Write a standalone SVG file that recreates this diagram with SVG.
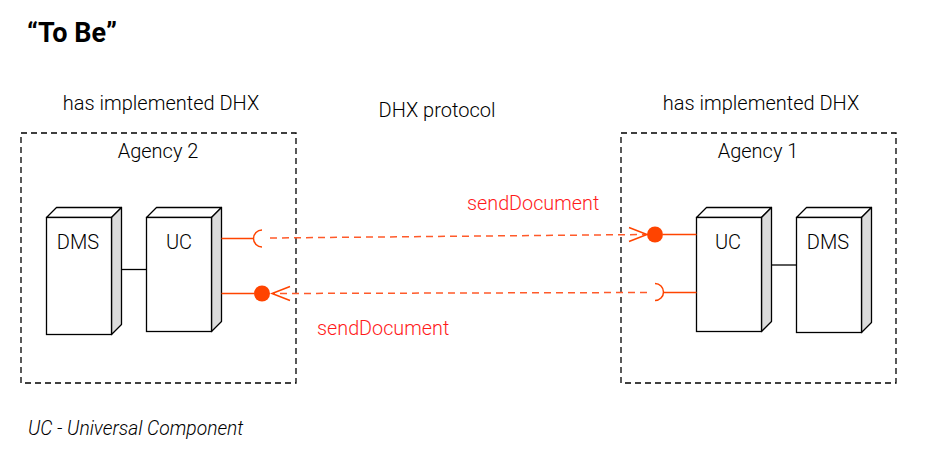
<svg xmlns="http://www.w3.org/2000/svg" width="943" height="455" viewBox="0 0 943 455">
<defs>
<style>
text{font-family:Roboto,"Liberation Sans",sans-serif;fill:#000;font-weight:300}
.t{font-size:20px;text-anchor:middle}
.title{font-size:27px;font-weight:bold}
.lbl{font-size:19.8px;fill:#ff1a1a}
.foot{font-size:19.3px;font-style:italic}
.group{fill:none;stroke:#000;stroke-width:1.3;stroke-dasharray:6,4}
.front{fill:#fff;stroke:#000;stroke-width:1.3}
.side{fill:#dcdcdc;stroke:#000;stroke-width:1.3;stroke-linejoin:round}
.top{fill:#fff;stroke:#000;stroke-width:1.3;stroke-linejoin:round}
.link{stroke:#000;stroke-width:1.3;fill:none}
.port{stroke:#ff4400;stroke-width:1.5;fill:none}
.dash{stroke:#ff5a2a;stroke-width:1.5;fill:none;stroke-dasharray:7,5}
.ball{fill:#ff4400}
</style>
</defs>
<text class="title" x="27" y="42">“To Be”</text>
<text class="t" x="161" y="110">has implemented DHX</text>
<text class="t" x="761" y="110">has implemented DHX</text>
<text class="t" x="437" y="117">DHX protocol</text>

<g id="agency2">
<rect class="group" x="21" y="133" width="275" height="250"/>
<text class="t" x="158" y="158">Agency 2</text>
</g>
<g id="agency1">
<rect class="group" x="621" y="133" width="275" height="250"/>
<text class="t" x="758" y="158">Agency 1</text>
</g>

<g id="dms2">
<polygon class="top" points="46.5,217.5 56.5,207.5 121.5,207.5 111.5,217.5"/>
<polygon class="side" points="111.5,217.5 121.5,207.5 121.5,324.5 111.5,334.5"/>
<rect class="front" x="46.5" y="217.5" width="65" height="117"/>
<text class="t" x="78" y="249">DMS</text>
</g>
<g id="uc2">
<polygon class="top" points="146.5,217.5 156.5,207.5 221.5,207.5 211.5,217.5"/>
<polygon class="side" points="211.5,217.5 221.5,207.5 221.5,321.5 211.5,331.5"/>
<rect class="front" x="146.5" y="217.5" width="65" height="114"/>
<text class="t" x="179" y="249">UC</text>
</g>
<g id="uc1">
<polygon class="top" points="696.5,217.5 706.5,207.5 771.5,207.5 761.5,217.5"/>
<polygon class="side" points="761.5,217.5 771.5,207.5 771.5,321.5 761.5,331.5"/>
<rect class="front" x="696.5" y="217.5" width="65" height="114"/>
<text class="t" x="728" y="249">UC</text>
</g>
<g id="dms1">
<polygon class="top" points="796.5,217.5 806.5,207.5 871.5,207.5 861.5,217.5"/>
<polygon class="side" points="861.5,217.5 871.5,207.5 871.5,322.5 861.5,332.5"/>
<rect class="front" x="796.5" y="217.5" width="65" height="115"/>
<text class="t" x="828" y="249">DMS</text>
</g>

<g id="connectors">
<line class="link" x1="121.5" y1="269.5" x2="146.5" y2="269.5"/>
<line class="link" x1="771.5" y1="265" x2="796.5" y2="265"/>
<line class="port" x1="221.5" y1="238.5" x2="254" y2="238.5"/>
<path class="port" d="M262,230 A8.5,8.5 0 0 0 262,247"/>
<line class="dash" x1="270" y1="238" x2="645" y2="234.5"/>
<path class="port" d="M629,227.5 L647,234.5 L629,241.5"/>
<circle class="ball" cx="655" cy="234.5" r="8"/>
<line class="port" x1="663" y1="234.5" x2="696.5" y2="234.5"/>
<line class="port" x1="696.5" y1="292.5" x2="663" y2="292.5"/>
<path class="port" d="M655,283.5 A8.5,8.5 0 0 1 655,300.5"/>
<line class="dash" x1="647" y1="292.5" x2="273" y2="293.5"/>
<path class="port" d="M290,286.5 L272,293.5 L290,300.5"/>
<circle class="ball" cx="262" cy="293.5" r="8"/>
<line class="port" x1="221.5" y1="293.5" x2="254" y2="293.5"/>
</g>

<text class="lbl" x="467" y="210">sendDocument</text>
<text class="lbl" x="317" y="335">sendDocument</text>
<text class="foot" x="28" y="435">UC - Universal Component</text>
</svg>
